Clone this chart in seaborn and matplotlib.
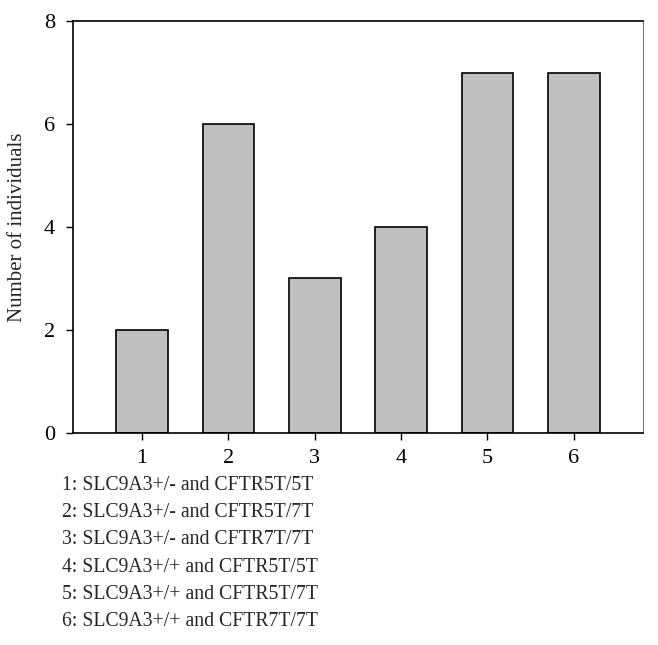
import matplotlib
matplotlib.use("Agg")
import matplotlib.pyplot as plt
import seaborn as sns
import pandas as pd

#data
groups = ["1", "2", "3", "4", "5", "6"]
counts = [2, 6, 3, 4, 7, 7]
group_labels = [
    "1: SLC9A3+/- and CFTR5T/5T",
    "2: SLC9A3+/- and CFTR5T/7T",
    "3: SLC9A3+/- and CFTR7T/7T",
    "4: SLC9A3+/+ and CFTR5T/5T",
    "5: SLC9A3+/+ and CFTR5T/7T",
    "6: SLC9A3+/+ and CFTR7T/7T",
]
y_ticks = [0, 2, 4, 6, 8]

sns.set_style("white")
plt.rcParams["font.family"] = ["Liberation Serif", "DejaVu Serif"]

df = pd.DataFrame({"group": groups, "count": counts})

fig = plt.figure(figsize=(6.58, 6.45), dpi=100)
ax = fig.add_axes([0.111, 0.329, 0.866, 0.638])

sns.barplot(data=df, x="group", y="count", color="#c0c0c0", width=0.6,
            edgecolor="black", linewidth=1.2, saturation=1, ax=ax)

ax.set_xlim(-0.8, 5.8)
ax.set_ylim(0, 8)
ax.set_yticks(y_ticks)
ax.set_xlabel("")
ax.set_ylabel("Number of individuals", fontsize=15, labelpad=12)
ax.tick_params(axis="both", labelsize=16, length=5, width=1, direction="out",
               left=True, bottom=True, colors="black")
ax.tick_params(axis="x", pad=7)
ax.tick_params(axis="y", pad=8)

for side in ["left", "bottom", "top"]:
    ax.spines[side].set_color("black")
    ax.spines[side].set_linewidth(1.2)
ax.spines["right"].set_color("#777777")
ax.spines["right"].set_linewidth(0.8)

#key for the group numbers under the plot
for i, txt in enumerate(group_labels):
    fig.text(0.094, 1 - (485 + i * 27.4) / 645, txt, fontsize=14.2,
             va="center", ha="left")

fig.savefig("out.png", dpi=100)
